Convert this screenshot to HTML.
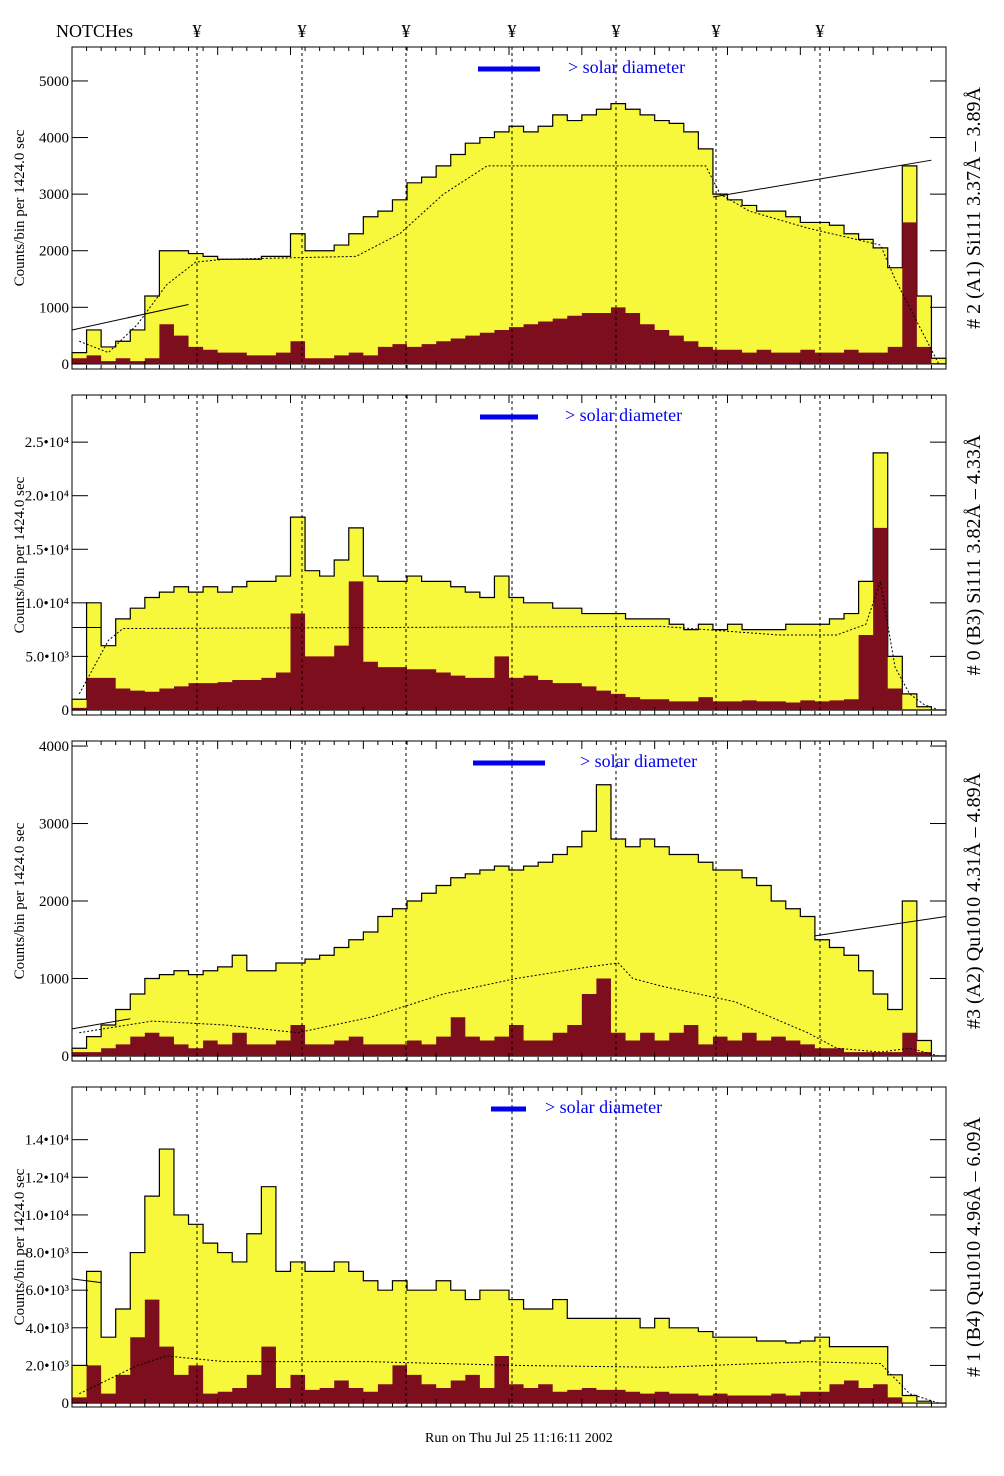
<!DOCTYPE html>
<html><head><meta charset="utf-8"><style>
body{margin:0;background:#fff}
svg{display:block;font-family:"Liberation Serif",serif}
</style></head><body>
<svg id="c" width="1004" height="1476" viewBox="0 0 1004 1476"></svg>
<script>
const notchX = [197,302,406,512,616,716,820];
const y1 = [200,600,300,400,600,1200,2000,2000,1950,1900,1850,1850,1850,1900,1900,2300,2000,2000,2100,2300,2600,2700,2900,3200,3300,3500,3700,3900,4000,4100,4200,4100,4200,4400,4300,4400,4500,4600,4500,4400,4300,4250,4100,3800,3000,2900,2800,2700,2700,2600,2500,2500,2450,2300,2200,2050,1700,3500,1200,100];
const r1 = [100,150,50,100,50,100,700,500,300,250,200,200,150,150,200,400,100,100,150,200,150,300,350,300,350,400,450,500,550,600,650,700,750,800,850,900,900,1000,900,700,600,500,400,300,250,250,200,250,200,200,250,200,200,250,200,200,300,2500,300,0];
const f1i = [0,2,4,6,8,10,19,22,25,28,43,44,46,50,55,56,58,59];
const f1v = [400,200,700,1400,1800,1850,1900,2300,3000,3500,3500,3000,2700,2400,2100,1500,500,0];
const y2 = [1000,10000,6000,8500,9500,10500,11000,11500,11000,11500,11000,11500,12000,12000,12500,18000,13000,12500,14000,17000,12500,12000,12000,12500,12000,12000,11500,11000,10500,12500,10500,10000,10000,9500,9500,9000,9000,9000,8500,8500,8500,8000,7500,8000,7500,8000,7500,7500,7500,8000,8000,8000,8500,9000,12000,24000,5000,1500,300,0];
const r2 = [200,3000,3000,2000,1800,1700,2000,2200,2500,2500,2600,2800,2800,3000,3500,9000,5000,5000,6000,12000,4500,4000,4000,3800,3800,3500,3200,3000,3000,5000,3000,3200,2800,2500,2500,2200,1800,1500,1200,1000,1000,800,800,1200,800,800,900,800,800,700,900,800,900,1000,7000,17000,2000,0,0,0];
const f2i = [0,1,2,3,40,48,52,54,55,56,57,58,59];
const f2v = [1500,4000,6500,7600,7800,7000,7000,8000,12000,4000,1500,500,0];
const y3 = [100,250,400,600,800,1000,1050,1100,1050,1100,1150,1300,1100,1100,1200,1200,1250,1300,1400,1500,1600,1800,1900,2000,2100,2200,2300,2350,2400,2450,2400,2450,2500,2600,2700,2900,3500,2800,2700,2800,2700,2600,2600,2500,2400,2400,2300,2200,2000,1900,1800,1500,1400,1300,1100,800,600,2000,200,0];
const r3 = [50,50,100,150,250,300,250,150,100,200,150,300,150,150,200,400,150,150,200,250,150,150,150,200,150,250,500,250,200,250,400,200,200,300,400,800,1000,300,200,300,200,300,400,150,250,200,300,200,250,200,150,100,100,50,50,50,50,300,50,0];
const f3i = [0,5,10,15,20,25,30,35,37,38,40,45,50,52,55,57,59];
const f3v = [300,450,400,300,500,800,1000,1150,1200,1000,900,700,300,100,50,100,0];
const y4 = [2000,7000,3500,5000,8000,11000,13500,10000,9500,8500,8000,7500,9000,11500,7000,7500,7000,7000,7500,7000,6500,6000,6500,6000,6000,6500,6000,5500,6000,6000,5500,5000,5000,5500,4500,4500,4500,4500,4500,4000,4500,4000,4000,3800,3500,3500,3500,3300,3300,3200,3300,3500,3000,3000,3000,3000,1500,400,100,0];
const r4 = [300,2000,500,1500,3500,5500,3000,1500,2000,500,600,800,1500,3000,800,1500,700,800,1200,800,600,1000,2000,1500,1000,800,1200,1500,800,2500,1000,800,1000,600,700,800,700,700,600,500,600,500,500,400,500,400,400,400,500,400,600,600,1000,1200,800,1000,300,0,0,0];
const f4i = [0,4,6,10,20,30,40,50,55,57,59];
const f4v = [500,2000,2500,2200,2200,2000,1900,2200,2100,500,0];
const ticks1 = [0,1000,2000,3000,4000,5000];
const tl1 = ["0","1000","2000","3000","4000","5000"];
const ticks2 = [0,5000,10000,15000,20000,25000];
const tl2 = ["0","5.0•10³","1.0•10⁴","1.5•10⁴","2.0•10⁴","2.5•10⁴"];
const ticks3 = [0,1000,2000,3000,4000];
const tl3 = ["0","1000","2000","3000","4000"];
const ticks4 = [0,2000,4000,6000,8000,10000,12000,14000];
const tl4 = ["0","2.0•10³","4.0•10³","6.0•10³","8.0•10³","1.0•10⁴","1.2•10⁴","1.4•10⁴"];

const NS="http://www.w3.org/2000/svg", svg=document.getElementById('c');
function mk(t,a,p){const e=document.createElementNS(NS,t);for(const k in a)e.setAttribute(k,a[k]);(p||svg).appendChild(e);return e;}
const X0=72,X1=946,NB=60,BW=(X1-X0)/NB;
const xb=i=>X0+i*BW;
const panels=[
 {top:47,bot:369,min:-90,max:5600,y:y1,r:r1,fi:f1i,fv:f1v,t:ticks1,tl:tl1,lab:"# 2 (A1) Si111  3.37Å – 3.89Å",bar:[478,540],tx:568,
  lines:[[0,600,8,1050],[44,2950,59,3600]]},
 {top:395,bot:715,min:-470,max:29400,y:y2,r:r2,fi:f2i,fv:f2v,t:ticks2,tl:tl2,lab:"# 0 (B3) Si111  3.82Å – 4.33Å",bar:[480,538],tx:565,
  lines:[[0,7700,2,7700]]},
 {top:741,bot:1061,min:-65,max:4065,y:y3,r:r3,fi:f3i,fv:f3v,t:ticks3,tl:tl3,lab:"#3 (A2) Qu1010  4.31Å – 4.89Å",bar:[473,545],tx:580,
  lines:[[0,350,4,480],[51,1550,60,1800]]},
 {top:1087,bot:1407,min:-210,max:16800,y:y4,r:r4,fi:f4i,fv:f4v,t:ticks4,tl:tl4,lab:"# 1 (B4) Qu1010 4.96Å – 6.09Å",bar:[491,526],tx:545,
  lines:[[0,6600,2,6400]]}
];
let t=mk('text',{x:56,y:37,'font-size':18});t.textContent='NOTCHes';

notchX.forEach(x=>{const s=mk('text',{x:x,y:37,'font-size':18,'text-anchor':'middle'});s.textContent='¥';
 });
panels.forEach((p,k)=>{
 const g=mk('g',{});
 
 const sy=v=>p.bot-(v-p.min)/(p.max-p.min)*(p.bot-p.top);
 function step(arr,fill,stroke){let d='M'+X0+','+sy(0);arr.forEach((v,i)=>{d+=' L'+xb(i)+','+sy(Math.min(v,p.max))+' L'+xb(i+1)+','+sy(Math.min(v,p.max));});d+=' L'+X1+','+sy(0)+' Z';
  return mk('path',{d:d,fill:fill,stroke:stroke,'stroke-width':1.2},g);}
 const yh=step(p.y,'#f7f73c','#000');
 const rh=step(p.r,'#7d0e1e','none');
 let d='';p.fi.forEach((i,j)=>{d+=(j?' L':'M')+(xb(i)+BW/2)+','+sy(p.fv[j]);});
 const fl=mk('path',{d:d,fill:'none',stroke:'#000','stroke-dasharray':'2,2','stroke-width':1},g);
 
 p.lines.forEach(l=>{const ln=mk('line',{x1:xb(l[0]),y1:sy(l[1]),x2:xb(l[2]),y2:sy(l[3]),stroke:'#000','stroke-width':1},g);
  });
 notchX.forEach(x=>{const n=mk('line',{x1:x,x2:x,y1:p.top,y2:p.bot,stroke:'#000','stroke-dasharray':'3,3','stroke-width':1},g);
  });
 const fr=mk('rect',{x:X0,y:p.top,width:X1-X0,height:p.bot-p.top,fill:'none',stroke:'#000','stroke-width':1},g);
 
 for(let i=1;i<60;i++){const tx=xb(i);mk('line',{x1:tx,x2:tx,y1:p.top,y2:p.top+(i%5?4:8),stroke:'#000'},g);mk('line',{x1:tx,x2:tx,y1:p.bot,y2:p.bot-(i%5?4:8),stroke:'#000'},g);}
 p.t.forEach((v,j)=>{const ty=sy(v);mk('line',{x1:X0,x2:X0+16,y1:ty,y2:ty,stroke:'#000'},g);mk('line',{x1:X1,x2:X1-16,y1:ty,y2:ty,stroke:'#000'},g);
  const lt=mk('text',{x:X0-3,y:ty+5,'font-size':15,'text-anchor':'end'},g);lt.textContent=p.tl[j];
  });
 const mid=(p.top+p.bot)/2;
 const yt=mk('text',{x:0,y:0,'font-size':15,'text-anchor':'middle',transform:`translate(24,${mid}) rotate(-90)`},g);yt.textContent='Counts/bin per   1424.0 sec';
 
 const rl=mk('text',{x:0,y:0,'font-size':20,'text-anchor':'middle',transform:`translate(980,${mid}) rotate(-90)`},g);rl.textContent=p.lab;
 
 const bl=mk('line',{x1:p.bar[0],x2:p.bar[1],y1:p.top+22,y2:p.top+22,stroke:'#0000ee','stroke-width':5},g);
 
 const st=mk('text',{x:p.tx,y:p.top+26,'font-size':18,fill:'#0000ee'},g);st.textContent='> solar diameter';
 
});
t=mk('text',{x:425,y:1442,'font-size':14});t.textContent='Run on Thu Jul 25 11:16:11 2002';

</script>
</body></html>
